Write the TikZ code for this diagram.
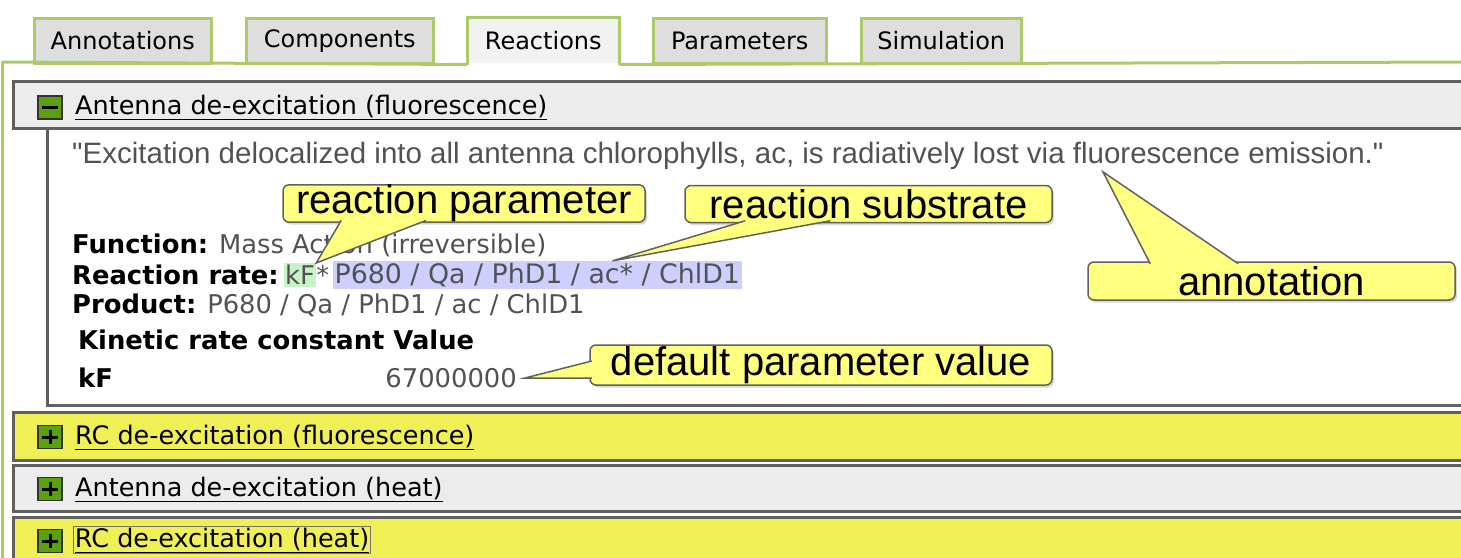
\documentclass[tikz,border=0pt]{standalone}
\usepackage{fontspec}
\setmainfont{DejaVu Sans}
\newfontfamily\arialfont{Liberation Sans}
\usepackage{tikz}
\usetikzlibrary{calc,positioning,shadows}

\definecolor{tabgreen}{RGB}{172,202,104}
\definecolor{tabgray}{RGB}{222,222,222}
\definecolor{tabsel}{RGB}{242,242,242}
\definecolor{barborder}{RGB}{96,96,96}
\definecolor{bargray}{RGB}{236,236,236}
\definecolor{baryellow}{RGB}{240,240,86}
\definecolor{tipyellow}{RGB}{255,255,128}
\definecolor{icongreen}{RGB}{92,160,16}
\definecolor{kfgreen}{RGB}{200,242,200}
\definecolor{subblue}{RGB}{206,206,255}

\begin{document}
\begin{tikzpicture}[x=1pt,y=-1pt,
  tab/.style={draw=tabgreen,line width=2.5pt,fill=tabgray,minimum height=45pt,inner sep=0pt,anchor=north west,font=\fontsize{24}{24}\selectfont},
  tabline/.style={draw=tabgreen,line width=3pt},
  bar/.style={draw=barborder,line width=3pt},
  head/.style={anchor=west,inner sep=0pt,font=\fontsize{25.5}{25.5}\selectfont},
  icon/.style={draw=black!80,fill=icongreen,line width=1.5pt,minimum width=24pt,minimum height=23pt,inner sep=0pt},
  body/.style={anchor=west,inner sep=0pt,text=black!68,font=\fontsize{25.8}{26}\selectfont},
  bubble/.style={draw=black!62,fill=tipyellow,line width=1.5pt,rounded corners=6pt,inner sep=0pt,font=\arialfont\fontsize{40}{40}\selectfont,drop shadow={shadow xshift=2pt,shadow yshift=-2.5pt,fill=black!30}},
  pointer/.style={draw=black!62,fill=tipyellow,line width=1.5pt,line join=miter}]
\useasboundingbox (0,0) rectangle (1461,557);

% tabs
\node[tab,minimum width=177pt] (annot) at (33,17) {Annotations};
\node[tab,minimum width=187pt] (comp) at (245,17) {Components};
\node[tab,minimum width=150pt,draw=none,fill=tabsel] (reac) at (467,17) {Reactions};
\node[tab,minimum width=173pt] (param) at (652,17) {Parameters};
\node[tab,minimum width=160pt] (simul) at (860,17) {Simulation};
\draw[tabline] (reac.south west) -- (reac.north west) -- (reac.north east) -- (reac.south east);
\draw[tabline] (2,62) -- (reac.south west);
\draw[tabline] (reac.south east) -- (1475,62);
\draw[tabline] (2,61) -- (2,560);

% reaction bars
\filldraw[bar,fill=bargray] (13,81) rectangle (1475,128);
\draw[bar] (47,128) -- (47,405) -- (1475,405);
\filldraw[bar,fill=baryellow] (13,412) rectangle (1475,460);
\filldraw[bar,fill=bargray] (13,465) rectangle (1475,511);
\filldraw[bar,fill=baryellow] (13,517) rectangle (1475,575);

\node[icon] (i1) at (50,107.5) {};
\node[icon] (i2) at (50,437) {};
\node[icon] (i3) at (50,489) {};
\node[icon] (i4) at (50,541) {};
\draw[line width=3pt] ($(i1.west)+(5,0)$) -- ($(i1.east)+(-5,0)$);
\foreach \i in {i2,i3,i4}{
  \draw[line width=3pt] ($(\i.west)+(5,0)$) -- ($(\i.east)+(-5,0)$);
  \draw[line width=3pt] ($(\i.north)+(0,5)$) -- ($(\i.south)+(0,-5)$);
}
\node[head] (h1) at (75,107) {\underline{Antenna de-excitation (fluorescence)}};
\node[head] (h2) at (75,437) {\underline{RC de-excitation (fluorescence)}};
\node[head] (h3) at (75,489) {\underline{Antenna de-excitation (heat)}};
\node[head,draw=black!55,line width=0.8pt,inner sep=1.5pt] (h4) at (73,540) {\underline{RC de-excitation (heat)}};

% reaction details
\node[body,font=\arialfont\fontsize{29.5}{30}\selectfont] (quote) at (72,156) {"Excitation delocalized into all antenna chlorophylls, ac, is radiatively lost via fluorescence emission."};
\node[body] (func) at (72,245) {{\color{black}\bfseries Function:} Mass Action (irreversible)};
\node[body,text=black] (rlab) at (72,275) {\bfseries Reaction rate:};
\node[body,fill=kfgreen,inner xsep=1pt,inner ysep=2pt,right=5pt of rlab] (kf) {kF};
\node[body,right=0pt of kf] (star) {*};
\node[body,fill=subblue,inner xsep=2pt,inner ysep=2pt,right=3pt of star,font=\fontsize{26.8}{27}\selectfont] (subs) {P680 / Qa / PhD1 / ac* / ChlD1};
\node[body] (prod) at (72,305) {{\color{black}\bfseries Product:} P680 / Qa / PhD1 / ac / ChlD1};
\node[body,text=black] (khead) at (78,340) {\bfseries Kinetic rate constant Value};
\node[body,text=black] (kname) at (78,378) {\bfseries kF};
\node[body,anchor=east] (kval) at (517,378) {67000000};

% callouts
\node[bubble,minimum width=362pt,minimum height=37pt] (rp) at (464,203.5) {reaction parameter};
\node[bubble,minimum width=367pt,minimum height=37pt] (rs) at (868.5,204) {reaction substrate};
\node[bubble,minimum width=367pt,minimum height=38pt] (an) at (1271.5,281) {annotation};
\node[bubble,minimum width=462pt,minimum height=40pt] (dv) at (821,365) {default parameter value};
\coordinate (rptip) at (kf.north east);
\coordinate (rstip) at ($(subs.north west)+(280,0)$);
\coordinate (antip) at ($(quote.south west)+(1031,2)$);
\coordinate (dvtip) at ($(kval.east)+(8,0)$);
\filldraw[pointer] ($(rp.south west)+(59,-2.5)$) -- (rptip) -- ($(rp.south west)+(144,-2.5)$);
\filldraw[pointer] ($(rs.south west)+(61,-2.5)$) -- (rstip) -- ($(rs.south west)+(146,-2.5)$);
\filldraw[pointer] ($(an.north west)+(63,2.5)$) -- (antip) -- ($(an.north west)+(151,2.5)$);
\filldraw[pointer] ($(dv.west)+(2.5,-4)$) -- (dvtip) -- ($(dv.west)+(2.5,13)$);
\end{tikzpicture}
\end{document}
